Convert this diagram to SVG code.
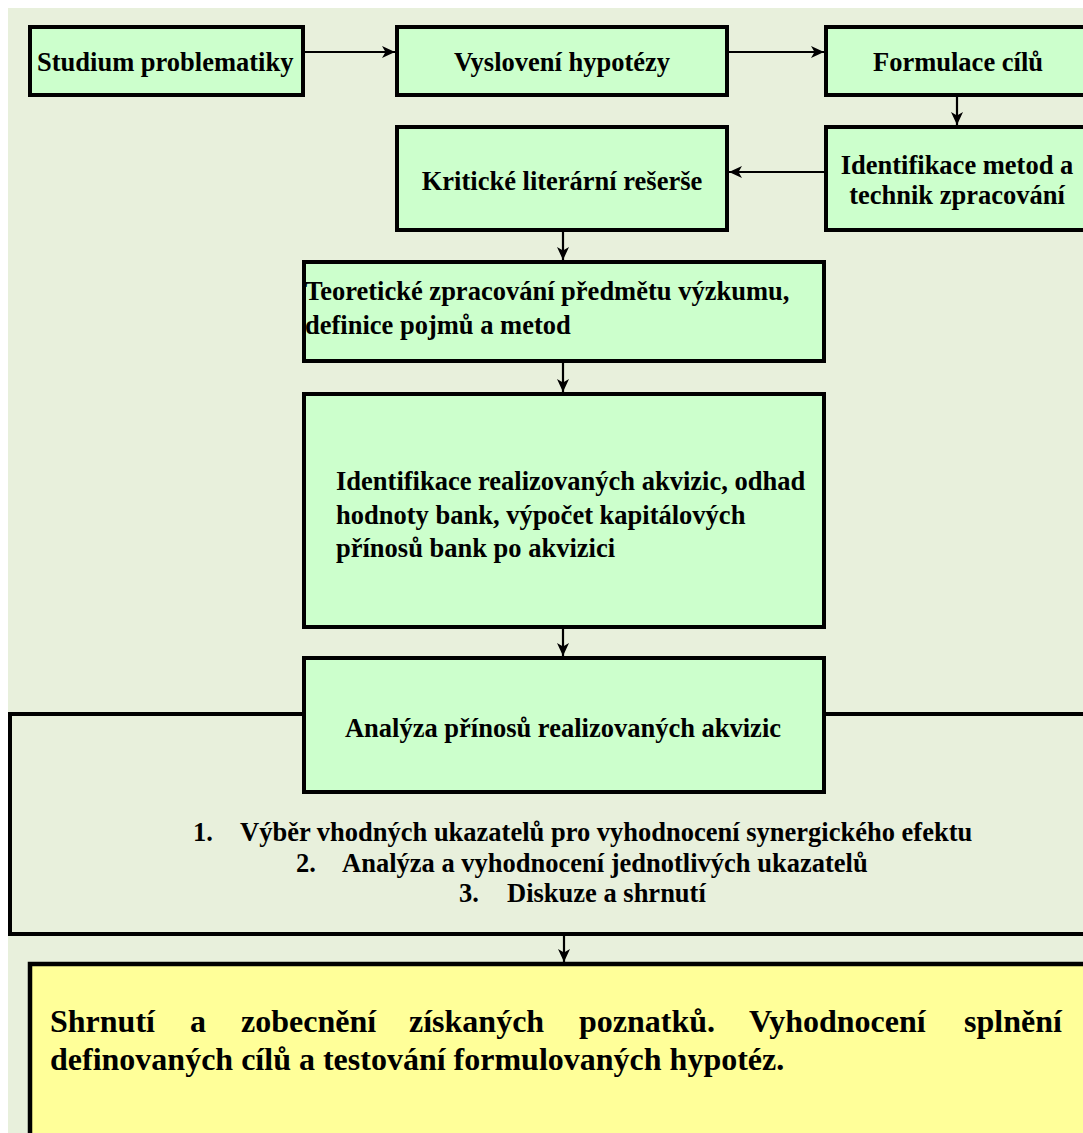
<svg xmlns="http://www.w3.org/2000/svg" width="1083" height="1133" viewBox="0 0 1083 1133">
<style>
.bg{fill:#E8F0DC}
.box{fill:#CCFFCC;stroke:#000;stroke-width:4}
.outer{fill:#E8F0DC;stroke:#000;stroke-width:4}
.yellow{fill:#FFFF99;stroke:#000;stroke-width:4.5}
.t{font-family:"Liberation Serif","Times New Roman",serif;font-weight:bold;font-size:26.5px;fill:#000}
.c{text-anchor:middle}
.big{font-size:32px}
.conn line{stroke:#000;stroke-width:2.2;marker-end:url(#arr)}
</style>
<defs>
<marker id="arr" markerUnits="userSpaceOnUse" markerWidth="13" markerHeight="12" viewBox="0 0 13 12" refX="13" refY="6" orient="auto">
<path d="M0,0 L13,6 L0,12 L3.5,6 z" fill="#000"/>
</marker>
</defs>
<rect x="0" y="0" width="1083" height="1133" fill="#fff"/>
<rect class="bg" x="8" y="8" width="1075" height="1125"/>

<g id="summary-frame">
<rect class="outer" x="10" y="714" width="1090" height="220"/>
<text class="t"><tspan x="193" y="841">1.</tspan><tspan x="240" y="841">Výběr vhodných ukazatelů pro vyhodnocení synergického efektu</tspan></text>
<text class="t"><tspan x="296" y="872">2.</tspan><tspan x="342" y="872">Analýza a vyhodnocení jednotlivých ukazatelů</tspan></text>
<text class="t"><tspan x="459" y="902">3.</tspan><tspan x="507" y="902">Diskuze a shrnutí</tspan></text>
</g>

<g id="n1"><rect class="box" x="30" y="27" width="273" height="68"/><text class="t" x="37" y="71">Studium problematiky</text></g>
<g id="n2"><rect class="box" x="397" y="27" width="330" height="68"/><text class="t c" x="562" y="71">Vyslovení hypotézy</text></g>
<g id="n3"><rect class="box" x="826" y="27" width="270" height="68"/><text class="t c" x="958" y="71">Formulace cílů</text></g>
<g id="n4"><rect class="box" x="826" y="127" width="270" height="103"/><text class="t c" x="957" y="174">Identifikace metod a</text><text class="t c" x="957" y="204">technik zpracování</text></g>
<g id="n5"><rect class="box" x="397" y="127" width="330" height="103"/><text class="t c" x="562" y="190">Kritické literární rešerše</text></g>
<g id="n6"><rect class="box" x="304" y="262" width="520" height="99"/><text class="t" x="305" y="300">Teoretické zpracování předmětu výzkumu,</text><text class="t" x="305" y="334">definice pojmů a metod</text></g>
<g id="n7"><rect class="box" x="304" y="394" width="520" height="233"/><text class="t" x="336" y="490">Identifikace realizovaných akvizic, odhad</text><text class="t" x="336" y="524">hodnoty bank, výpočet kapitálových</text><text class="t" x="336" y="557">přínosů bank po akvizici</text></g>
<g id="n8"><rect class="box" x="304" y="658" width="520" height="134"/><text class="t c" x="563" y="737">Analýza přínosů realizovaných akvizic</text></g>
<g id="n9"><rect class="yellow" x="30" y="964" width="1070" height="200"/>
<text class="t big"><tspan x="50" y="1032">Shrnutí</tspan><tspan x="190" y="1032">a</tspan><tspan x="241" y="1032">zobecnění</tspan><tspan x="409" y="1032">získaných</tspan><tspan x="579" y="1032">poznatků.</tspan><tspan x="749" y="1032">Vyhodnocení</tspan><tspan x="964" y="1032">splnění</tspan></text>
<text class="t big" x="50" y="1070">definovaných cílů a testování formulovaných hypotéz.</text>
</g>

<g id="connectors" class="conn">
<line x1="301" y1="52" x2="395" y2="52"/>
<line x1="727" y1="52" x2="824" y2="52"/>
<line x1="957" y1="97" x2="957" y2="125"/>
<line x1="826" y1="172" x2="729" y2="172"/>
<line x1="563" y1="230" x2="563" y2="260"/>
<line x1="563" y1="361" x2="563" y2="392"/>
<line x1="563" y1="627" x2="563" y2="656"/>
<line x1="564" y1="935" x2="564" y2="962"/>
</g>
</svg>
